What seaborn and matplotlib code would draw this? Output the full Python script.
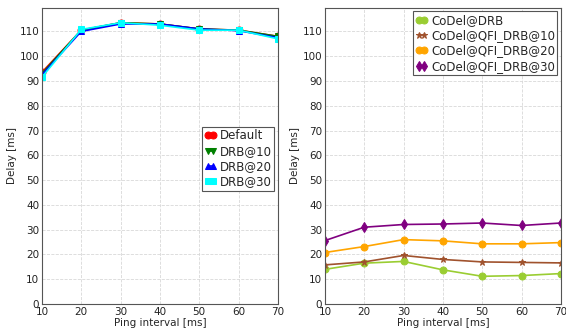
import matplotlib
matplotlib.use("Agg")
import matplotlib.pyplot as plt
import seaborn as sns
import pandas as pd

sns.set_style("white")
plt.rcParams['font.family'] = ['DejaVu Sans']

ping = [10, 20, 30, 40, 50, 60, 70]
default = [93.5, 110.5, 113.5, 113.0, 111.0, 110.5, 108.0]
drb10 = [93.0, 110.5, 113.5, 113.0, 111.0, 110.5, 108.0]
drb20 = [92.5, 110.0, 113.0, 113.0, 111.0, 110.3, 107.5]
drb30 = [91.5, 110.8, 113.5, 112.5, 110.5, 110.5, 107.0]

codel_drb = [14.0, 16.5, 17.2, 13.8, 11.2, 11.5, 12.3]
codel_qfi10 = [15.8, 17.0, 19.6, 18.0, 17.0, 16.8, 16.6]
codel_qfi20 = [20.8, 23.2, 26.0, 25.5, 24.3, 24.3, 24.8]
codel_qfi30 = [25.6, 31.0, 32.1, 32.3, 32.7, 31.7, 32.7]

yticks = [0, 10, 20, 30, 40, 50, 60, 70, 80, 90, 100, 110]

left_series = [("Default", default, "red", "o"),
               ("DRB@10", drb10, "green", "v"),
               ("DRB@20", drb20, "blue", "^"),
               ("DRB@30", drb30, "cyan", "s")]
right_series = [("CoDel@DRB", codel_drb, "yellowgreen", "o"),
                ("CoDel@QFI_DRB@10", codel_qfi10, "sienna", "*"),
                ("CoDel@QFI_DRB@20", codel_qfi20, "orange", "o"),
                ("CoDel@QFI_DRB@30", codel_qfi30, "purple", "d")]

fig = plt.figure(figsize=(5.66, 3.28), dpi=100)
ax1 = fig.add_axes([0.074, 0.073, 0.417, 0.903])
ax2 = fig.add_axes([0.574, 0.073, 0.417, 0.903])

def draw(ax, series, loc, bbox=None):
    names = []
    for name, vals, color, marker in series:
        df = pd.DataFrame({"x": ping, "y": vals})
        sns.lineplot(data=df, x="x", y="y", ax=ax, color=color, marker=marker,
                     markersize=5, markeredgecolor=color, linewidth=1.2, legend=False)
        names.append(name)
    ax.set_xlim(10, 70)
    ax.set_ylim(0, 119.5)
    ax.set_xticks(ping)
    ax.set_yticks(yticks)
    ax.grid(True, linestyle="--", color="#d8d8d8", linewidth=0.6)
    ax.tick_params(labelsize=7.5, length=3, direction="in", pad=2, colors="#222222")
    for s in ax.spines.values():
        s.set_color("#555555")
        s.set_linewidth(0.8)
    ax.set_xlabel("Ping interval [ms]", fontsize=7.5, labelpad=1)
    ax.set_ylabel("Delay [ms]", fontsize=7.5, labelpad=2)
    kw = dict(loc=loc, fontsize=8.5, numpoints=2, handlelength=1.0, handletextpad=0.3,
              borderpad=0.2, labelspacing=0.2, borderaxespad=0.3, fancybox=False,
              framealpha=1, edgecolor="#555555")
    if bbox is not None:
        kw["bbox_to_anchor"] = bbox
    leg = ax.legend(handles=list(ax.lines), labels=names, **kw)
    leg.get_frame().set_linewidth(0.8)

draw(ax1, left_series, "center right", (1.0, 0.49))
draw(ax2, right_series, "upper right")

fig.savefig("out.png", dpi=100)
